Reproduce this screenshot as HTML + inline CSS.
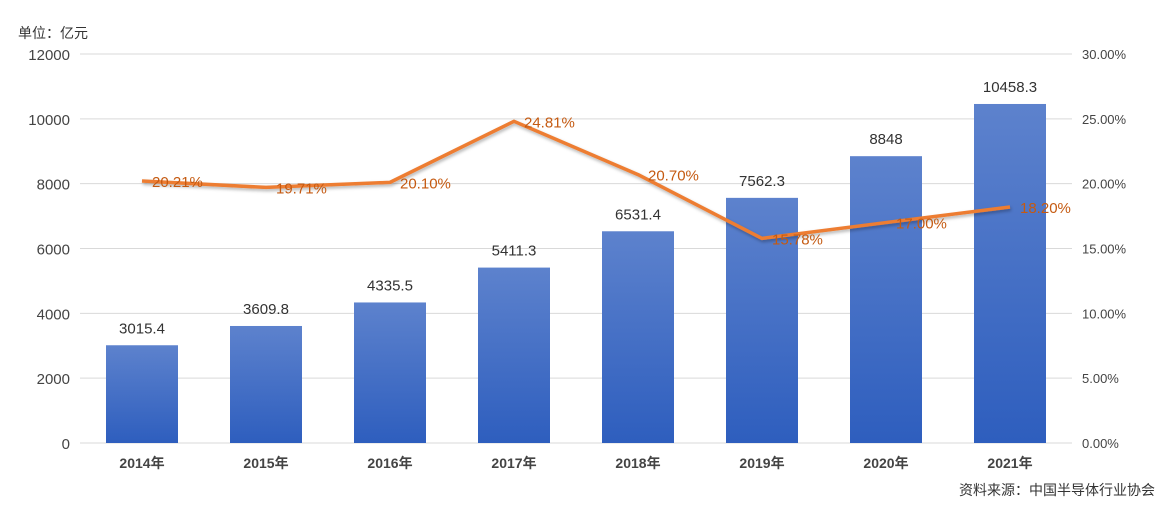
<!DOCTYPE html>
<html><head><meta charset="utf-8"><style>
body{margin:0;background:#fff;font-family:"Liberation Sans","Noto Sans CJK SC",sans-serif}
svg text{font-family:"Liberation Sans","Noto Sans CJK SC",sans-serif}
</style></head><body>
<svg id="c" width="1160" height="504" xmlns="http://www.w3.org/2000/svg">
<defs>
<linearGradient id="g" x1="0" y1="0" x2="0" y2="1"><stop offset="0" stop-color="#5d82cd"/><stop offset="1" stop-color="#2e5ebe"/></linearGradient>
<filter id="sh" x="-10%" y="-10%" width="120%" height="130%"><feDropShadow dx="1" dy="2" stdDeviation="1.5" flood-color="#000" flood-opacity="0.3"/></filter>
</defs>
<text x="18" y="38" font-size="14" fill="#333">单位：亿元</text>
<text x="1155" y="495" font-size="14" fill="#333" text-anchor="end">资料来源：中国半导体行业协会</text>
</svg>
<script>
const categories=["2014年","2015年","2016年","2017年","2018年","2019年","2020年","2021年"];
const barValues=[3015.4,3609.8,4335.5,5411.3,6531.4,7562.3,8848,10458.3];
const barLabels=["3015.4","3609.8","4335.5","5411.3","6531.4","7562.3","8848","10458.3"];
const rateValues=[20.21,19.71,20.10,24.81,20.70,15.78,17.00,18.20];
const leftTicks=[0,2000,4000,6000,8000,10000,12000];
const rightTicks=[0,5,10,15,20,25,30];
const svg=document.getElementById('c');const NS="http://www.w3.org/2000/svg";
const x0=80,x1=1072,yB=443,yT=54;
const yL=v=>yB-(v/12000)*(yB-yT);
const yR=v=>yB-(v/30)*(yB-yT);
const step=(x1-x0)/categories.length;
const xc=i=>x0+step*(i+0.5);
function mk(t,a){const e=document.createElementNS(NS,t);for(const k in a)e.setAttribute(k,a[k]);svg.appendChild(e);return e;}
leftTicks.forEach((v,i)=>{
 const l=mk('line',{x1:x0,x2:x1,y1:yL(v),y2:yL(v),stroke:'#d9d9d9','stroke-width':1});
 
 
 const t=mk('text',{x:70,y:yL(v)+6,'font-size':15,fill:'#444','text-anchor':'end'});t.textContent=v;
 
 
});
rightTicks.forEach(v=>{
 const t=mk('text',{x:1082,y:yR(v)+5,'font-size':13,fill:'#444'});t.textContent=v.toFixed(2)+'%';
 
 
});
const bw=72;
barValues.forEach((v,i)=>{
 const r=mk('rect',{x:xc(i)-bw/2,y:yL(v),width:bw,height:yB-yL(v),fill:'url(#g)'});
 
 
 const t=mk('text',{x:xc(i),y:yL(v)-12,'font-size':15,fill:'#333','text-anchor':'middle'});t.textContent=barLabels[i];
 
 
 const c=mk('text',{x:xc(i),y:468,'font-size':14,'font-weight':'bold',fill:'#444','text-anchor':'middle'});c.textContent=categories[i];
 
 
});
const pts=rateValues.map((v,i)=>xc(i)+','+yR(v)).join(' ');
const pl=mk('polyline',{points:pts,fill:'none',stroke:'#ed7d31','stroke-width':3.5,'stroke-linejoin':'round',filter:'url(#sh)'});


rateValues.forEach((v,i)=>{
 const t=mk('text',{x:xc(i)+10,y:yR(v)+6,'font-size':15,fill:'#c55a11'});t.textContent=v.toFixed(2)+'%';
 
 
});
</script>
</body></html>
